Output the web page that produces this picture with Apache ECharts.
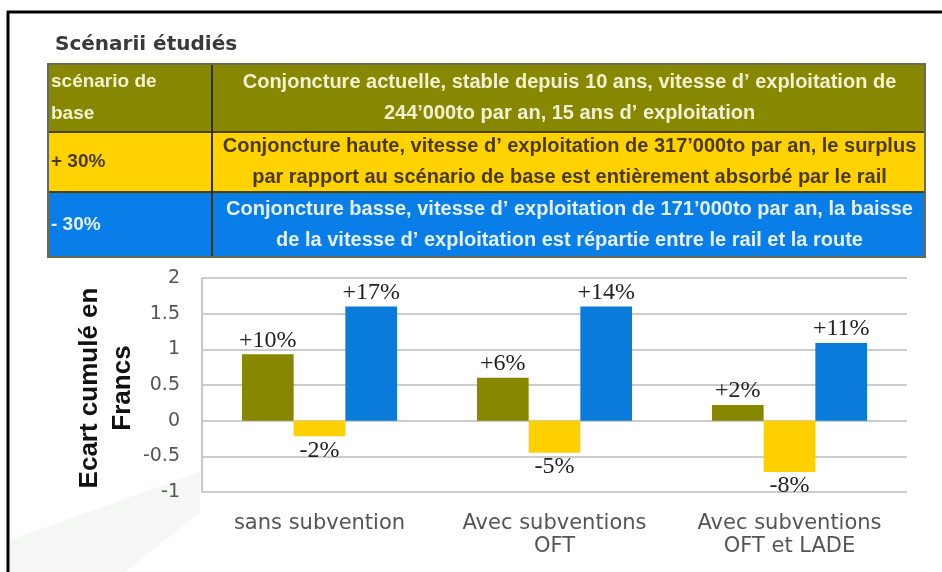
<!DOCTYPE html>
<html>
<head>
<meta charset="utf-8">
<script src="https://cdn.jsdelivr.net/npm/echarts@6/dist/echarts.min.js"></script>
<style>
html,body{margin:0;padding:0;background:#fff;}
#c{width:942px;height:572px;}
</style>
</head>
<body>
<div id="c"></div>
<script>
// ---- data ----
const categories = ['sans subvention', 'Avec subventions\nOFT', 'Avec subventions\nOFT et LADE'];
const baseValues = [0.93, 0.6, 0.22];
const hauteValues = [-0.22, -0.45, -0.72];
const basseValues = [1.6, 1.6, 1.09];
const baseLabels = ['+10%', '+6%', '+2%'];
const hauteLabels = ['-2%', '-5%', '-8%'];
const basseLabels = ['+17%', '+14%', '+11%'];
const yMin = -1, yMax = 2, yStep = 0.5;
const tableTitle = 'Scénarii étudiés';
const scenarioNames = ['scénario de\nbase', '+ 30%', '- 30%'];
const scenarioDescs = [
  'Conjoncture actuelle, stable depuis 10 ans, vitesse d\u2019 exploitation de\n244\u2019000to par an, 15 ans d\u2019 exploitation',
  'Conjoncture haute, vitesse d\u2019 exploitation de 317\u2019000to par an, le surplus\npar rapport au scénario de base est entièrement absorbé par le rail',
  'Conjoncture basse, vitesse d\u2019 exploitation de 171\u2019000to par an, la baisse\nde la vitesse d\u2019 exploitation est répartie entre le rail et la route'
];
const yAxisTitle = 'Ecart cumulé en\nFrancs';

// ---- styles ----
const C_OLIVE = '#878700', C_YELLOW = '#FFD000', C_BLUE = '#0B7BDB';
const rowFill = ['#878700', '#FFD200', '#0A7EE8'];
const rowText = ['#F2F2D2', '#4A3A00', '#E4F1FF'];
const rowY = [64, 132, 192, 257];
const tX0 = 48, tX1 = 925, tCol = 212;

const chart = echarts.init(document.getElementById('c'), null, {renderer: 'canvas'});

function mk(values, labels) {
  return values.map((v, i) => ({
    value: v,
    label: {position: v >= 0 ? 'top' : 'bottom', formatter: labels[i]}
  }));
}

const graphics = [];
// frame
graphics.push({type: 'line', shape: {x1: 7, y1: 12, x2: 942, y2: 12}, style: {stroke: '#000', lineWidth: 3}, z: 10});
graphics.push({type: 'line', shape: {x1: 8, y1: 11, x2: 8, y2: 572}, style: {stroke: '#000', lineWidth: 3}, z: 10});
// faint decorative band
graphics.push({type: 'polygon', shape: {points: [[10, 572], [10, 540], [200, 472], [200, 512], [125, 572]]}, style: {fill: '#f5f7f5'}, z: -1});
// title
graphics.push({type: 'text', x: 55, y: 45, style: {text: tableTitle, font: 'bold 20px "DejaVu Sans"', fill: '#3a3a3a', verticalAlign: 'middle'}, z: 5});
// table rows
for (let r = 0; r < 3; r++) {
  graphics.push({type: 'rect', shape: {x: tX0, y: rowY[r], width: tX1 - tX0, height: rowY[r + 1] - rowY[r]}, style: {fill: rowFill[r]}, z: 5});
  graphics.push({type: 'text', x: tX0 + 3, y: (rowY[r] + rowY[r + 1]) / 2, style: {text: scenarioNames[r], font: 'bold 19px "Liberation Sans"', fill: rowText[r], verticalAlign: 'middle', align: 'left', lineHeight: 32}, z: 6});
  graphics.push({type: 'text', x: (tCol + tX1) / 2 + 1, y: (rowY[r] + rowY[r + 1]) / 2, style: {text: scenarioDescs[r], font: 'bold 20px "Liberation Sans"', fill: rowText[r], verticalAlign: 'middle', align: 'center', lineHeight: 31}, z: 6});
}
// table lines
for (let r = 1; r < 3; r++) {
  graphics.push({type: 'line', shape: {x1: tX0, y1: rowY[r], x2: tX1, y2: rowY[r]}, style: {stroke: '#4a4300', lineWidth: 2}, z: 7});
}
graphics.push({type: 'line', shape: {x1: tCol, y1: rowY[0], x2: tCol, y2: rowY[3]}, style: {stroke: '#2d2d10', lineWidth: 2}, z: 7});
graphics.push({type: 'rect', shape: {x: tX0, y: rowY[0], width: tX1 - tX0, height: rowY[3] - rowY[0]}, style: {fill: 'none', stroke: '#6b6b50', lineWidth: 2}, z: 7});
// y axis title
graphics.push({type: 'text', x: 106, y: 388, rotation: Math.PI / 2, style: {text: yAxisTitle, font: 'bold 26px "Liberation Sans"', fill: '#111', align: 'center', verticalAlign: 'middle', lineHeight: 33}, z: 6});

const labelStyle = {show: true, fontFamily: 'Liberation Serif', fontSize: 24, color: '#222', distance: 2};

chart.setOption({
  animation: false,
  backgroundColor: '#fff',
  grid: {left: 202, right: 35, top: 278, bottom: 80},
  xAxis: {
    type: 'category',
    data: categories,
    axisLine: {show: false, onZero: false},
    axisTick: {show: false},
    axisLabel: {interval: 0, hideOverlap: false, fontFamily: 'DejaVu Sans', fontSize: 21, color: '#555', margin: 20, lineHeight: 23},
    splitLine: {show: false}
  },
  yAxis: {
    type: 'value',
    min: yMin, max: yMax, interval: yStep,
    axisLine: {show: true, lineStyle: {color: '#c8c8c8', width: 2}},
    axisTick: {show: false},
    axisLabel: {fontFamily: 'DejaVu Sans', fontSize: 19, color: '#555', margin: 22, padding: [10, 0, 0, 0]},
    splitLine: {show: true, lineStyle: {color: '#cccccc', width: 2}}
  },
  series: [
    {type: 'bar', data: mk(baseValues, baseLabels), itemStyle: {color: C_OLIVE}, barGap: '0%', barCategoryGap: '34%', label: labelStyle},
    {type: 'bar', data: mk(hauteValues, hauteLabels), itemStyle: {color: C_YELLOW}, barGap: '0%', barCategoryGap: '34%', label: labelStyle},
    {type: 'bar', data: mk(basseValues, basseLabels), itemStyle: {color: C_BLUE}, barGap: '0%', barCategoryGap: '34%', label: labelStyle}
  ],
  graphic: graphics
});
</script>
</body>
</html>
